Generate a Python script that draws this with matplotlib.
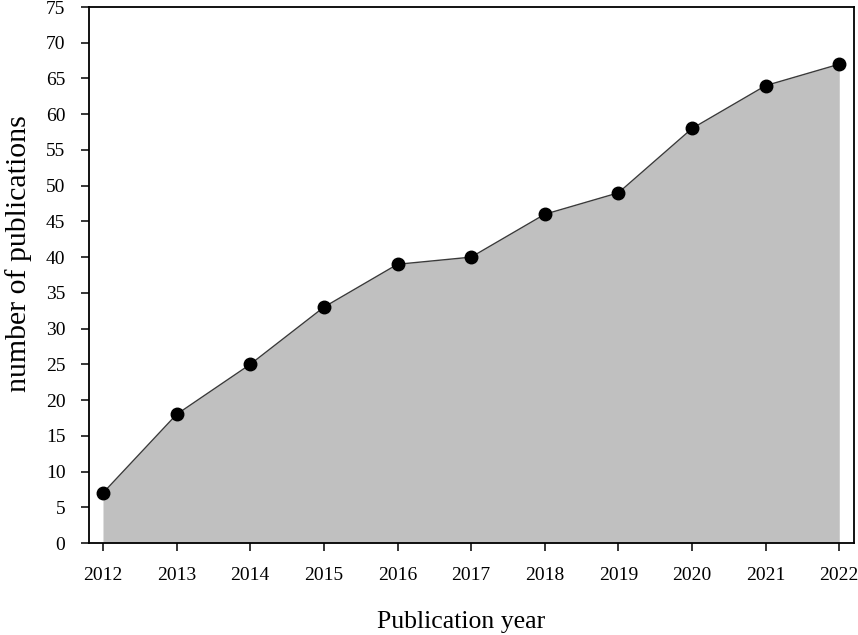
import matplotlib
matplotlib.use("Agg")
import matplotlib.pyplot as plt

years = [2012, 2013, 2014, 2015, 2016, 2017, 2018, 2019, 2020, 2021, 2022]
publications = [7, 18, 25, 33, 39, 40, 46, 49, 58, 64, 67]
y_ticks = list(range(0, 80, 5))

plt.rcParams['font.family'] = ['Liberation Serif', 'DejaVu Serif']

fig = plt.figure(figsize=(8.58, 6.35), dpi=100)
ax = fig.add_axes([89/858, 1 - 543/635, (854-89)/858, (543-7)/635])

ax.fill_between(years, publications, 0, color='#c0c0c0', linewidth=0)
ax.plot(years, publications, color='#3a3a3a', linewidth=1.0,
        marker='o', markersize=9, markerfacecolor='black', markeredgecolor='black')

ax.set_xlim(2011.81, 2022.2)
ax.set_ylim(0, 75)
ax.set_xticks(years)
ax.set_yticks(y_ticks)
ax.tick_params(direction='out', length=6, width=1.1, labelsize=14, pad=11)
for s in ax.spines.values():
    s.set_linewidth(1.3)

ax.set_xlabel('Publication year', fontsize=18.5, labelpad=20)
ax.set_ylabel('number of publications', fontsize=21.5, labelpad=10)
ax.xaxis.label.set_x(0.487)
ax.yaxis.label.set_y(0.54)

fig.savefig('out.png', dpi=100)
